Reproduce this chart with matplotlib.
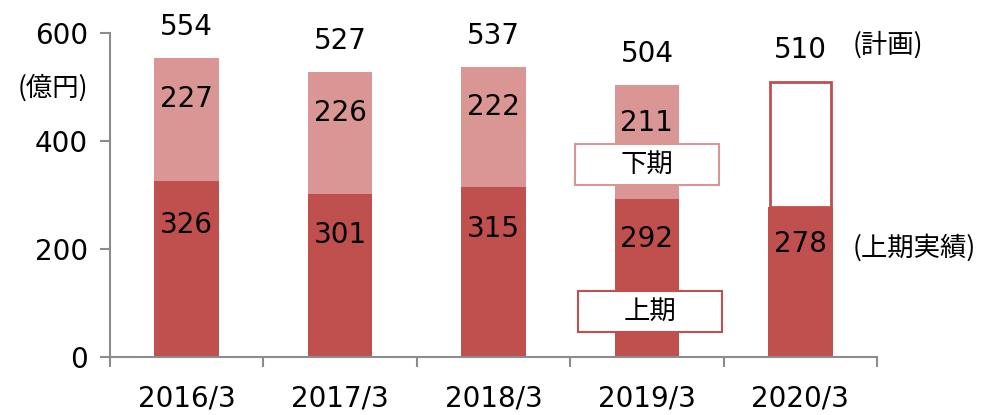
import matplotlib
matplotlib.use("Agg")
import matplotlib.pyplot as plt
from matplotlib.patches import Rectangle
import numpy as np

years = ["2016/3", "2017/3", "2018/3", "2019/3", "2020/3"]
first_half = [326, 301, 315, 292, 278]
second_half = [227, 226, 222, 211, None]
totals = [554, 527, 537, 504, 510]

dark = "#C0504D"
light = "#D99694"
grey = "#8C8C8C"
num_font = ["DejaVu Sans", "Noto Sans CJK JP"]
jp_font = ["Noto Sans CJK JP", "DejaVu Sans"]

fig = plt.figure(figsize=(9.86, 4.15), dpi=100)
ax = fig.add_axes([110/986, 1-357/415, (877-110)/986, (357-33)/415])

x = np.arange(len(years))
w = 0.42
ax.bar(x, first_half, width=w, color=dark, zorder=2)
for i in range(len(years)):
    if second_half[i] is not None:
        ax.bar(x[i], second_half[i], bottom=first_half[i], width=w, color=light, zorder=2)
        ax.text(x[i], first_half[i] + second_half[i]*0.67, str(second_half[i]),
                ha="center", va="center", fontsize=20, family=num_font)
    else:
        # plan bar: outline only above the first-half actual
        ax.bar(x[i], totals[i] - first_half[i], bottom=first_half[i], width=w - 0.02,
               facecolor="white", edgecolor=dark, linewidth=2, zorder=2)
    ax.text(x[i], first_half[i]*0.75, str(first_half[i]),
            ha="center", va="center", fontsize=20, family=num_font)
    ax.text(x[i], totals[i] + 58, str(totals[i]), ha="center", va="center",
            fontsize=20, family=num_font, clip_on=False)

ax.set_xlim(-0.5, len(years) - 0.5)
ax.set_ylim(0, 600)
ax.set_yticks([0, 200, 400, 600])
ax.set_xticks(x)
ax.set_xticklabels(years, family=num_font, fontsize=20)
ax.set_xticks(np.arange(len(years) + 1) - 0.5, minor=True)
ax.tick_params(axis="x", which="major", length=0, pad=20)
ax.tick_params(axis="x", which="minor", length=7, width=1.5, color=grey, direction="out")
ax.tick_params(axis="y", length=7, width=1.5, color=grey, labelsize=20, pad=9)
for lab in ax.get_yticklabels():
    lab.set_family(num_font)
for s in ["top", "right"]:
    ax.spines[s].set_visible(False)
for s in ["left", "bottom"]:
    ax.spines[s].set_color(grey)
    ax.spines[s].set_linewidth(1.5)

# legend boxes
for cx, cy, label, ec in [(3.0, 357, "下期", light), (3.02, 85, "上期", dark)]:
    ax.add_patch(Rectangle((cx - 0.47, cy - 38), 0.94, 76, facecolor="white",
                           edgecolor=ec, linewidth=1.5, zorder=4, clip_on=False))
    ax.text(cx, cy, label, ha="center", va="center", fontsize=19, family=jp_font, zorder=5)

fig.text(53/986, 1-88/415, "(億円)", ha="center", va="center", fontsize=19, family=jp_font)
fig.text(853/986, 1-45/415, "(計画)", ha="left", va="center", fontsize=19, family=jp_font)
fig.text(853/986, 1-248/415, "(上期実績)", ha="left", va="center", fontsize=19, family=jp_font)

fig.savefig("out.png", dpi=100)
